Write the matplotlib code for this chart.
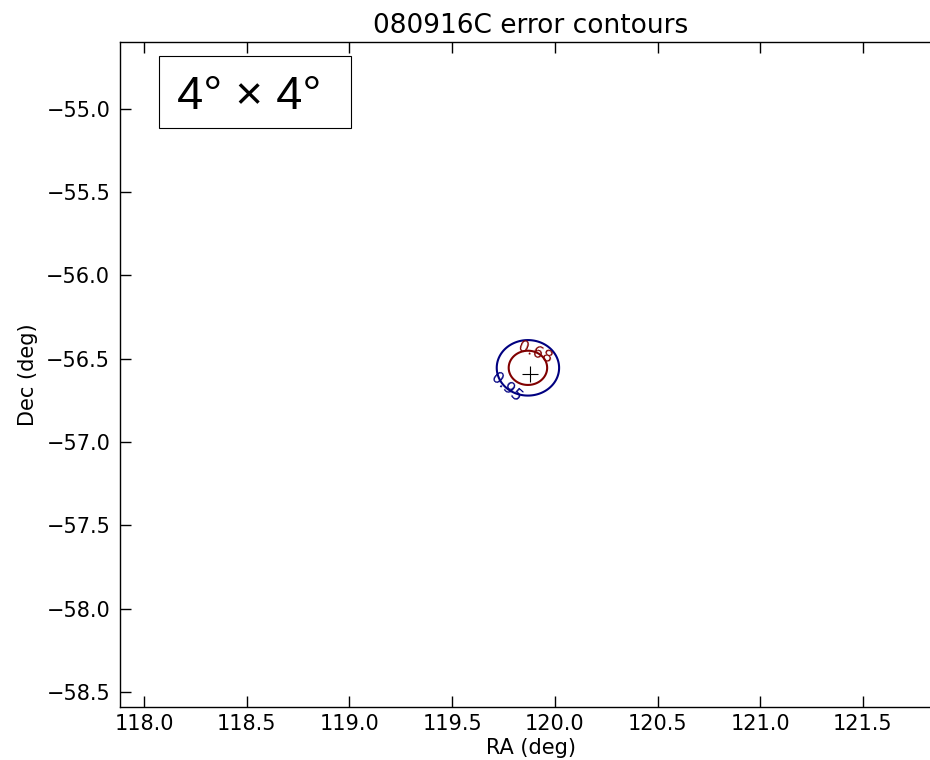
import numpy as np
import matplotlib
matplotlib.use("Agg")
import matplotlib.pyplot as plt
from matplotlib.patches import Rectangle

# --- Localisation of GRB 080916C ----------------------------------------------

grb_name = "080916C"
best_ra, best_dec = 119.879, -56.591          # best-fit position (deg)
cen_ra, cen_dec = 119.869, -56.555            # centroid of the likelihood map
sigma_ra, sigma_dec = 0.062, 0.068            # widths of the likelihood (deg)
containment = [0.68, 0.95]                    # contour levels to draw
level_colors = {0.68: (0.5, 0.0, 0.0), 0.95: (0.0, 0.0, 0.5)}
label_spots = [(119.90, -56.48), (119.76, -56.68)]

ra_lim = (117.883, 121.883)
dec_lim = (-58.59, -54.60)
ra_ticks = [118.0, 118.5, 119.0, 119.5, 120.0, 120.5, 121.0, 121.5]
dec_ticks = [-58.5, -58.0, -57.5, -57.0, -56.5, -56.0, -55.5, -55.0]


def likelihood_map(ra, dec):
    """Normalised 2D Gaussian probability map on the RA/Dec grid."""
    r2 = ((ra - cen_ra) / sigma_ra) ** 2 + ((dec - cen_dec) / sigma_dec) ** 2
    p = np.exp(-0.5 * r2)
    return p / p.sum()


def containment_thresholds(p, fractions):
    """Density value enclosing each requested probability fraction."""
    flat = np.sort(p.ravel())[::-1]
    cum = np.cumsum(flat)
    return {f: flat[np.searchsorted(cum, f)] for f in fractions}


# --- Plotting -----------------------------------------------------------------

ra = np.linspace(ra_lim[0], ra_lim[1], 1601)
dec = np.linspace(dec_lim[0], dec_lim[1], 1601)
RA, DEC = np.meshgrid(ra, dec)
prob = likelihood_map(RA, DEC)
thr = containment_thresholds(prob, containment)

levels = sorted(containment, reverse=True)     # 0.95 has the lower density
lev_vals = [thr[f] for f in levels]

fig = plt.figure(figsize=(9.3, 7.6), dpi=100)
ax = fig.add_axes([120 / 930, 1 - 707 / 760, 821.6 / 930, 665 / 760])

cs = ax.contour(RA, DEC, prob, levels=lev_vals,
                colors=[level_colors[f] for f in levels], linewidths=1.5)
fmt = {v: f"{f:.2f}" for v, f in zip(lev_vals, levels)}
ax.clabel(cs, fmt=fmt, fontsize=11.5, inline=False, manual=label_spots)

ax.plot(best_ra, best_dec, marker="+", color="k", ms=11.5, mew=0.8, ls="none")

ax.set_xlim(*ra_lim)
ax.set_ylim(*dec_lim)
ax.set_xticks(ra_ticks)
ax.set_yticks(dec_ticks)
ax.tick_params(direction="in", length=8, width=1, top=True, right=True,
               labelsize=15)
ax.tick_params(axis="x", pad=5)
ax.tick_params(axis="y", pad=7)
for s in ax.spines.values():
    s.set_linewidth(1.0)

ax.set_xlabel("RA (deg)", fontsize=15, labelpad=3)
ax.set_ylabel("Dec (deg)", fontsize=15, labelpad=6)
ax.set_title(f"{grb_name} error contours", fontsize=19, pad=6.5)

# field-of-view tag in the upper-left corner
ax.add_patch(Rectangle((0.0475, 0.8707), 0.2337, 0.1083,
                       transform=ax.transAxes, fc="white", ec="k", lw=0.8,
                       zorder=5))
ax.text(0.069, 0.899, "4° × 4°", transform=ax.transAxes, fontsize=34,
        family="Liberation Sans", ha="left", va="baseline", zorder=6)

fig.savefig("out.png", dpi=100)
